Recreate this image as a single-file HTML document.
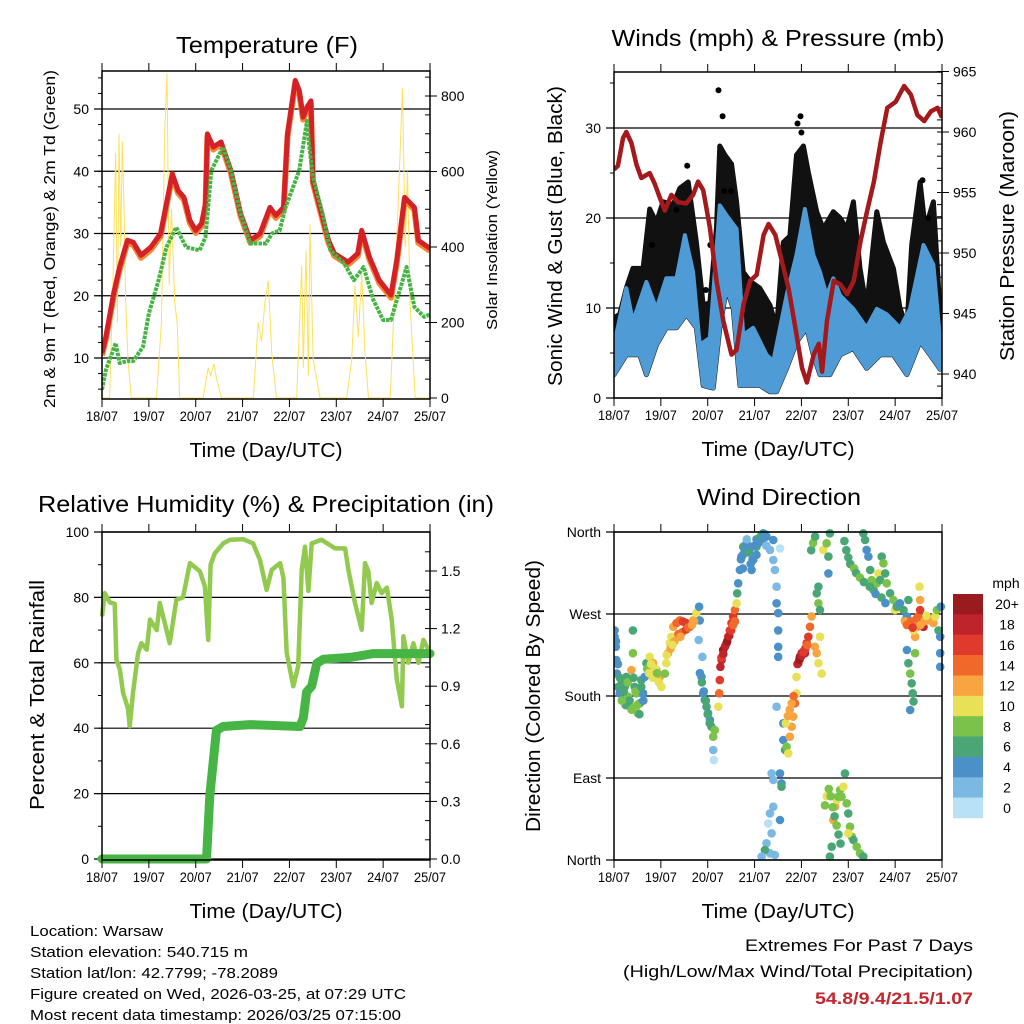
<!DOCTYPE html>
<html><head><meta charset="utf-8"><style>
html,body{margin:0;padding:0;background:#fff}
svg{display:block;font-family:"Liberation Sans",Arial,sans-serif}
</style></head><body>
<svg id="c" width="1024" height="1024" viewBox="0 0 1024 1024" xmlns="http://www.w3.org/2000/svg"></svg>
<script>
// ---------- DATA ----------
const dayLabels = ["18/07","19/07","20/07","21/07","22/07","23/07","24/07","25/07"];
// Temperature panel (hours since 18/07 00:00)
const tempHours = [0,2,6,9,13,16,20,25,30,32,36,39,42,45,48,51,53,54,57,61,66,71,76,81,86,89,93,95,99,101,103,105,107,108,112,116,119,126,131,133,137,142,148,151,155,160,162,168];
const tempValues = [10.8,13.4,20.4,24.6,28.9,28.6,26.5,27.8,30,33.2,39.6,36.9,35.8,32.1,30.5,31.6,34.8,46,43.9,44.7,40.1,33.2,28.9,30,34.2,32.9,34.2,46,54.6,53,48.7,50.3,51.3,38.5,33.7,28.9,26.8,25.4,26.8,30.5,26.2,22.5,20.1,25.7,35.8,34.2,28.9,27.6];
const dewHours = [0,2,7,9,13,16,21,24,29,33,38,43,50,53,56,62,66,71,76,84,87,91,94,101,105,106,108,113,117,124,129,134,139,144,148,151,156,160,165,168];
const dewValues = [4.9,8.1,12.4,9.2,9.5,9.5,11.8,17.2,22.5,27.8,31,27.8,27.3,29.4,40.1,43.9,40.1,33.2,28.4,28.4,30,30.5,34.2,40.1,48.1,44.4,39.1,33.2,27.3,25.2,22.5,24.6,19.3,16.1,16.1,19.3,24.6,18.2,16.6,17];
const solarHours = [0,3.9,5.6,7,7.9,8.7,9.6,10.4,11.3,12.1,13.3,15,27.9,30.4,32.1,33.3,34.4,35.6,37.3,38.5,39.8,51.8,54.4,55.6,57.3,58.7,61.2,77.5,80,81.7,83.4,85.2,86.9,89.4,99.7,102.3,103.1,104.5,105.7,106.5,108.2,111.7,125.3,127.9,129.6,131.3,133,134.7,136.5,147.6,150.1,152.7,153.9,155.3,156.5,157.8,160.4,168];
const solarValues = [0,0,300,650,200,700,400,680,500,260,100,0,0,200,700,860,300,500,250,200,0,0,80,60,90,50,0,0,200,150,250,310,120,0,0,350,80,390,60,460,100,0,0,100,300,160,330,120,0,0,300,650,820,400,600,250,0,0];
// Winds panel
const gustHours = [0,2.9,6.3,9.7,14.9,18.3,21.7,25.1,30.3,33.7,38,42.2,45.7,49.1,52.5,54.2,56.8,60.2,62.8,66.2,69.6,74.7,79.9,83.3,86.7,90.1,93.5,97,99.5,103.8,107.2,112.3,115.8,119.2,122.6,126,129.4,132.9,134.6,138,143.1,146.5,150,152.5,156.8,159.4,163.6,167.1,168];
const gustValues = [8.9,9.3,12.2,14.4,14.4,21,19.5,21.8,21.5,23.3,24,17.3,10.3,10.6,19,28,27,26,21.8,14,13,12.2,10.3,7.8,17.3,18,27,28,25.1,20.7,18.8,20.7,20,18.8,21.8,14.4,10,17.3,20.7,17.3,14.4,10,7.8,17,24,18.8,21.8,9.2,4.8];
const gustDotHours = [53.5,55.6,56.5,94,95.5,96,49.3,47,19.5,32,37.5,60,158,161];
const gustDotValues = [34.2,31.3,23,30.5,31.3,29.5,17,12,17,20.9,25.8,23,24.2,20];
const sustHiHours = [0,6.3,9.7,16.6,21.7,26.8,32,36.3,40.5,43.9,49.1,54.2,57.6,62.8,66.2,71.3,78.1,81.6,88.4,93.5,97.8,102.1,105.5,108.9,112.3,115.8,122.6,129.4,134.6,139.7,146.5,151.6,158.5,163.6,167.1,168];
const sustHi = [5.9,12.2,8.5,12.9,9.9,13.3,13.3,18.1,14,5.9,6.7,21.4,20.3,18.8,7,7.8,4.8,4.1,11.4,15.9,21,15.9,14,11.4,13.3,11.4,9.9,7.8,9.9,9.3,7.8,9.9,17,14.8,6.3,4.8];
const sustLoHours = [0,6.3,13.2,16.6,21.7,26.8,32,37.1,42.2,45.7,50.8,54.2,57.6,61.1,64.5,69.6,74.7,79.9,83.3,88.4,93.5,98.7,102.1,105.5,110.6,115.8,122.6,129.4,136.3,143.1,150,156.8,161.9,167.1,168];
const sustLo = [2.6,4.8,4.8,2.6,5.9,7.8,7.8,9.3,7.8,1.4,1.1,7.8,12.2,9.9,1.4,1.4,1.4,0.7,0.7,3.3,6.2,7.8,4.8,2.6,2.6,4.8,5.5,3.3,4.8,4.8,2.6,6.3,4.8,3.2,3.3];
const presHours = [0,2,4.6,6.3,8.9,11.5,14,18.3,20.9,23.4,26,29.4,32.8,37.1,40.5,43.1,45.7,49.1,52.5,56,60.2,62.8,66.3,69.7,73.1,76.6,79.2,82.6,86,89.4,92.9,96.3,98.8,102.3,104.9,106.6,109.1,112.6,116,119.4,122.8,126.3,129.7,133.1,136.6,140,144.3,148.6,152,155.4,158.9,162.3,165.7,168];
const presValues = [956.9,957.2,959.5,960,959.1,957.3,956.2,956.6,955.7,954.6,953.5,954.8,954.2,954.1,954.8,955.9,955.2,952.1,947.7,944.4,941.6,942,945.7,947.7,948.2,951.5,952.4,951.5,949.3,947.1,943.8,940.5,939.3,941.6,942.5,940.2,944.4,947.7,947.4,946.6,947.7,951,953.5,955.9,959.2,962,962.5,963.8,963.1,961.4,960.9,961.7,962,961.2];
// RH panel
const rhHours = [0,1.4,4,6.5,7.4,9.1,10.8,13.3,14.2,15.9,18.5,20.2,22.9,24.6,28,29.6,32.2,34.7,38.1,41.5,45,50.1,52.7,54.4,55.6,57.8,62.1,65.5,72.3,77.4,80.9,84.3,86.9,91.2,92.9,94.6,98,100.5,102.3,104,105.7,107.4,112.5,119.4,124.5,126.2,129.6,133,134.7,136.4,138.1,140.7,143.2,145.9,148.4,151,153.6,154.4,156.9,159.5,162.1,164.6,168];
const rhValues = [74.2,81.3,78.5,78,61,58,50.8,46,40.6,50.8,63,66,64,73.2,70,78.3,72,66,79.3,80,90.5,88,83.3,67,90,93.5,96.5,97.6,97.8,96.5,91.5,82.3,88.4,90.5,86,63,52.8,59,88.4,95.5,82,96.5,97.6,95,95,88.4,78.3,70.1,90.5,88,78.3,84.4,81.3,83,73.2,54.9,46.7,68.1,60,66,60,67,63];
const rainHours = [0,53.5,55.2,58.6,62,75.7,101.4,103.1,104.8,107.4,110,113.4,127.1,139,168];
const rainValues = [0,0,0.33,0.67,0.69,0.70,0.69,0.735,0.87,0.9,1.02,1.04,1.05,1.07,1.07];
// Wind direction scatter (hours, degrees, mph)
const dirHours = [
 0.3,0.3,0.9,1.2,1.5,2.1,2.9,3.8,4.6,5.5,
 6.3,7.2,8.0,8.9,9.7,9.7,10.6,11.5,12.3,13.2,
 14.0,14.9,15.7,16.6,18.3,20.0,21.7,23.4,24.3,26.0,
 26.8,27.7,28.6,29.4,30.3,32.0,33.7,35.4,37.1,38.8,
 40.5,42.2,43.6,43.9,43.4,45.3,44.8,45.7,46.5,47.4,
 48.2,49.1,49.9,50.8,51.6,50.8,51.1,53.4,53.9,54.2,
 54.5,55.1,55.9,56.8,57.6,58.5,59.3,60.2,61.0,61.9,
 62.8,63.1,63.6,64.5,65.3,66.2,67.9,69.6,70.5,71.3,
 73.0,74.7,76.4,78.1,79.9,81.6,82.4,83.3,83.3,84.1,
 84.1,84.1,84.1,81.6,85.0,83.3,80.7,81.6,85.0,85.8,
 85.8,79.9,79.0,80.7,78.1,79.9,82.4,77.3,75.6,85.0,
 81.6,86.7,86.7,87.6,88.4,89.3,90.1,91.0,91.8,92.7,
 93.5,93.5,94.4,95.2,96.1,97.0,97.8,98.7,99.5,100.4,
 101.2,102.9,103.8,104.7,105.5,106.4,103.8,104.7,105.5,104.7,
 107.2,108.9,109.8,110.6,109.8,110.6,111.5,112.3,113.2,114.1,
 114.9,115.8,116.6,117.5,118.3,119.2,120.0,120.9,121.8,122.6,
 124.3,126.0,127.7,120.0,127.7,128.6,129.4,130.3,131.2,132.0,
 132.9,134.6,135.4,136.3,137.1,138.0,138.9,139.7,141.4,143.1,
 144.0,144.8,146.5,148.3,149.1,150.0,150.8,150.0,150.8,151.7,
 152.5,153.0,153.4,151.7,154.2,154.2,155.1,155.9,156.8,157.7,
 158.5,159.4,160.2,161.9,163.6,164.5,165.4,166.2,167.1,167.1,
 167.4,167.1,156.5,156.8,153.4,
 1,2,3,5,6,7,8,10,11,12,13,14,4,9,15,17,18,19,20,21,22,23,27,29,31,33,35,37,38,40,41,30,34,44,45,46,47,48,49,55,56,57,58,59,60,61,62,65,66,67,68,69,70,71,72,73,74,75,76,77,78,66,68,71,73,88,89,90,91,92,94,95,96,97,98,99,101,102,103,108,109,110,111,112,113,114,115,116,118,119,120,121,123,124,126,128,131,134,137,139,149,150,152,153,155,157,159,160];
const dirValues = [
 252,245,234,219.5,204.6,190,183,197.5,175.6,190,
 201,179.4,168.3,208.5,227,252,190,183,161,172,
 197.5,183,201,216,223,216,208.5,201,190,204.6,
 216,227,238,245,256,260,263,261.7,260,256,
 263,271,278,263,241.5,223,201,183,175.6,168.3,
 161,153.7,146.3,135.3,142.6,120.7,109.7,168.3,183,197.5,
 212,219.5,230.5,234,238,245,252,260,267.4,274.4,
 281.7,292.7,303.7,318.3,333,343.9,347.6,336.6,318.3,329.3,
 343.9,351.2,358.6,355,340.3,329.3,318.3,300,281.7,271,
 252,234,223,351.2,342,168.3,95,87.8,95,84.1,
 80.5,51.2,40.2,29.3,18.3,7.3,5.5,11,3.7,43.9,
 58.5,150,131.7,120.7,124.4,117,135.3,146.3,157.3,172,
 183,201,216,223,227,228.7,227,238,245,256,
 267.4,234,227,216,245,204.6,292.7,281.7,274.4,300,
 340.3,347.6,333,358.6,314.6,3.7,14.6,43.9,58.5,65.8,
 69.5,76.8,69.5,80.5,95,62.2,51.2,36.6,25.6,22,
 14.6,7.3,3.7,29.3,358.6,351.2,340.3,333,318.3,307.3,
 296.3,303.7,314.6,307.3,333,325.6,314.6,303.7,292.7,285.4,
 274.4,278,281.7,274.4,263,267.4,285.4,230.5,216,204.6,
 193.9,183,174,164.6,227,245,256,267.4,274.4,260,
 256,263,267.4,263,260,267.4,274.4,252,245,227,
 278,212,300,285.4,252,
 240,215,200,185,170,195,175,200,185,170,160,190,175,165,175,210,205,215,200,210,205,195,225,232,240,248,250,253,255,258,262,236,245,205,195,185,175,160,150,222,226,235,240,246,252,258,262,330,335,340,345,338,325,330,345,352,348,355,350,358,345,320,352,344,335,150,158,165,172,180,215,220,224,228,232,236,340,348,355,60,70,78,70,58,48,38,28,18,350,340,332,325,320,315,310,305,300,292,288,282,262,258,262,255,265,258,262,268];
const dirSpeeds = [
 4,4,4,4,5,6,5,6,7,6,
 6,8,8,12,8,7,7,8,8,7,
 6,4,5,7,10,12,13,12,10,9,
 10,12,11,10,12,14,15,17,16,14,
 12,11,4,4,3,3,4,5,4,6,
 5,4,7,8,9,2,1,11,15,16,
 18,19,20,20,18,17,16,16,16,14,
 10,7,5,4,5,6,4,3,4,4,
 6,5,6,4,3,3,2,2,4,4,
 4,4,4,4,1,2,2,2,4,4,
 6,2,1,2,2,2,2,6,3,4,
 2,4,5,6,8,10,12,13,12,14,
 10,10,18,20,19,20,18,17,16,14,
 12,13,12,11,10,10,7,8,6,6,
 10,8,7,6,4,7,7,13,12,10,
 8,8,9,10,7,9,6,8,8,7,
 8,8,6,10,6,7,5,4,6,8,
 7,9,10,6,7,8,7,9,7,8,
 10,6,5,6,4,5,6,4,6,8,
 6,6,7,4,8,12,14,15,16,17,
 18,16,14,12,13,10,8,6,4,5,
 4,4,10,12,10,
 4,5,6,6,7,8,7,6,8,9,7,6,8,8,5,9,10,11,10,11,9,10,11,12,13,14,15,16,14,13,12,10,12,5,6,5,6,7,6,16,18,19,20,18,17,15,14,4,4,5,4,6,4,5,6,4,5,6,4,5,3,4,3,4,5,11,12,13,12,14,19,20,18,17,16,15,7,8,7,9,10,9,8,8,7,8,7,6,6,7,6,7,8,7,8,7,6,5,6,5,13,14,15,16,14,12,13,11];
const speedLabels = ["20+","18","16","14","12","10","8","6","4","2","0"];
const speedColors = ["#b8e1f6","#7bb9e3","#4b91c8","#4aa775","#7ac24a","#e8e056","#f8a541","#f1682b","#df3a2c","#c0242b","#9a1b1e"];

// ---------- HELPERS ----------
const NS="http://www.w3.org/2000/svg";
const svg=document.getElementById('c');
function el(tag,attrs,parent){const e=document.createElementNS(NS,tag);for(const k in attrs)e.setAttribute(k,attrs[k]);(parent||svg).appendChild(e);return e;}
function txt(s,x,y,size,anchor,parent,extra){const t=el('text',Object.assign({x:x,y:y,'font-size':size,'text-anchor':anchor||'middle',fill:'#000'},extra||{}),parent);t.textContent=s;return t;}
function linScale(d0,d1,r0,r1){return v=>r0+(v-d0)/(d1-d0)*(r1-r0);}
function pathFrom(xs,ys,fx,fy){let d='';for(let i=0;i<xs.length;i++){d+=(i?'L':'M')+fx(xs[i]).toFixed(1)+','+fy(ys[i]).toFixed(1);}return d;}
function revPath(xs,ys,fx,fy){let d='';for(let i=xs.length-1;i>=0;i--){d+='L'+fx(xs[i]).toFixed(1)+','+fy(ys[i]).toFixed(1);}return d;}

function frame(g,L,T,R,B,xs){
  el('rect',{x:L,y:T,width:R-L,height:B-T,fill:'none',stroke:'#000','stroke-width':1.5},g);
  for(let d=0;d<=7;d++){
    const x=xs(d*24);
    el('line',{x1:x,y1:B,x2:x,y2:B+8,stroke:'#000','stroke-width':1},g);
    el('line',{x1:x,y1:T,x2:x,y2:T-8,stroke:'#000','stroke-width':1},g);
    const t=txt(dayLabels[d],x,B+22,14,'middle',g,{textLength:32,lengthAdjust:'spacingAndGlyphs'});
    
    
  }
  const xt=txt('Time (Day/UTC)',(L+R)/2,B+58,20,'middle',g,{textLength:153,lengthAdjust:'spacingAndGlyphs'});
  
  
}
function leftAxis(g,L,R,ticks,fy,minor,labelsFn,gridW){
  ticks.forEach(v=>{const y=fy(v);
    el('line',{x1:L-8,y1:y,x2:R,y2:y,stroke:'#000','stroke-width':gridW||1.2},g);
    const t=txt(labelsFn?labelsFn(v):String(v),L-13,y+5,14,'end',g);
    
    
  });
  (minor||[]).forEach(v=>{const y=fy(v);el('line',{x1:L-4,y1:y,x2:L,y2:y,stroke:'#000','stroke-width':1},g);});
}
function rightAxis(g,R,ticks,fy,minor,fmt){
  ticks.forEach(v=>{const y=fy(v);
    el('line',{x1:R,y1:y,x2:R+7,y2:y,stroke:'#000','stroke-width':1},g);
    const t=txt(fmt?fmt(v):String(v),R+11,y+5,14,'start',g);
    
    
  });
  (minor||[]).forEach(v=>{const y=fy(v);el('line',{x1:R-5,y1:y,x2:R,y2:y,stroke:'#000','stroke-width':1},g);});
}
function rotTitle(g,s,x,y,size,len){return txt(s,x,y,size,'middle',g,{transform:'rotate(-90 '+x+' '+y+')',textLength:len,lengthAdjust:'spacingAndGlyphs'});}
function range(a,b,s){const r=[];for(let v=a;v<=b+1e-9;v+=s)r.push(+v.toFixed(4));return r;}

// ---------- PANEL 1: TEMPERATURE ----------
(function(){
  const L=102,T=71,R=430,B=399;
  const g=el('g',{});
  
  
  const xs=linScale(0,168,L,R);
  const yT=linScale(10,50,358,109);
  const yS=linScale(0,800,398,96);
  const clip=el('clipPath',{id:'cp1'},g);el('rect',{x:L,y:T,width:R-L,height:B-T},clip);
  leftAxis(g,L,R,[10,20,30,40,50],yT,range(5,55,2.5));
  rightAxis(g,R,[0,200,400,600,800],yS,range(0,850,50));
  const pg=el('g',{'clip-path':'url(#cp1)'},g);
  const sol=el('path',{d:pathFrom(solarHours,solarValues,xs,yS),fill:'none',stroke:'#fde15a','stroke-width':1},pg);
  
  
  const o=el('path',{d:pathFrom(tempHours,tempValues.map(v=>v-0.4),xs,yT),fill:'none',stroke:'#f58634','stroke-width':6,'stroke-linejoin':'round'},pg);
  
  
  const r=el('path',{d:pathFrom(tempHours,tempValues,xs,yT),fill:'none',stroke:'#d42027','stroke-width':5,'stroke-linejoin':'round'},pg);
  
  
  const dp=el('path',{d:pathFrom(dewHours,dewValues,xs,yT),fill:'none',stroke:'#46b445','stroke-width':4,'stroke-dasharray':'3.5 1','stroke-linejoin':'round'},pg);
  
  
  frame(g,L,T,R,B,xs);
  const t=txt('Temperature (F)',267,53,23,'middle',g,{textLength:182,lengthAdjust:'spacingAndGlyphs'});
  
  
  const yl=rotTitle(g,'2m & 9m T (Red, Orange) & 2m Td (Green)',55,239,16,338);
  
  
  const yr=rotTitle(g,'Solar Insolation (Yellow)',497,240,15,180);
  
  
})();

// ---------- PANEL 2: WINDS ----------
(function(){
  const L=614,T=72,R=942,B=398;
  const g=el('g',{});
  
  
  const xs=linScale(0,168,L,R);
  const yW=linScale(0,30,398,128);
  const yP=linScale(940,960,374,132);
  const clip=el('clipPath',{id:'cp2'},g);el('rect',{x:L,y:T,width:R-L,height:B-T},clip);
  leftAxis(g,L,R,[0,10,20,30],yW,range(0,35,5));
  rightAxis(g,R,[940,945,950,955,960,965],yP,range(938,965,1));
  const pg=el('g',{'clip-path':'url(#cp2)'},g);
  const d=pathFrom(gustHours,gustValues,xs,yW)+revPath(sustLoHours,sustLo,xs,yW)+'Z';
  const gb=el('path',{d:d,fill:'#111',stroke:'#111','stroke-width':5,'stroke-linejoin':'round'},pg);
  
  
  for(let i=0;i<gustDotHours.length;i++){
    const c=el('circle',{cx:xs(gustDotHours[i]).toFixed(1),cy:yW(gustDotValues[i]).toFixed(1),r:3,fill:'#000'},pg);
    
    
  }
  const d2=pathFrom(sustHiHours,sustHi,xs,yW)+revPath(sustLoHours,sustLo,xs,yW)+'Z';
  const bl=el('path',{d:d2,fill:'#4f9bd5',stroke:'#4f9bd5','stroke-width':4,'stroke-linejoin':'round'},pg);
  
  
  const pr=el('path',{d:pathFrom(presHours,presValues,xs,yP),fill:'none',stroke:'#a3191c','stroke-width':4.5,'stroke-linejoin':'round'},pg);
  
  
  frame(g,L,T,R,B,xs);
  const t=txt('Winds (mph) & Pressure (mb)',778,46,23,'middle',g,{textLength:333,lengthAdjust:'spacingAndGlyphs'});
  
  
  const yl=rotTitle(g,'Sonic Wind & Gust (Blue, Black)',562,236,20,300);
  
  
  const yr=rotTitle(g,'Station Pressure (Maroon)',1014,236,20,250);
  
  
})();

// ---------- PANEL 3: RH & PRECIP ----------
(function(){
  const L=102,T=532,R=430,B=860;
  const g=el('g',{});
  
  
  const xs=linScale(0,168,L,R);
  const yH=linScale(0,100,859,532);
  const yR=linScale(0,1.5,859,571);
  const clip=el('clipPath',{id:'cp3'},g);el('rect',{x:L-8,y:T,width:R-L+16,height:B-T+8},clip);
  leftAxis(g,L,R,[0,20,40,60,80,100],yH,range(0,100,10));
  rightAxis(g,R,[0,0.3,0.6,0.9,1.2,1.5],yR,range(0,1.65,0.1),v=>v.toFixed(1));
  const pg=el('g',{'clip-path':'url(#cp3)'},g);
  const rh=el('path',{d:pathFrom(rhHours,rhValues,xs,yH),fill:'none',stroke:'#92c94f','stroke-width':4.5,'stroke-linejoin':'round'},pg);
  
  
  const rn=el('path',{d:pathFrom(rainHours,rainValues,xs,yR),fill:'none',stroke:'#47b446','stroke-width':9,'stroke-linejoin':'round','stroke-linecap':'round'},pg);
  
  
  frame(g,L,T,R,B,xs);
  const t=txt('Relative Humidity (%) & Precipitation (in)',266,512,23,'middle',g,{textLength:456,lengthAdjust:'spacingAndGlyphs'});
  
  
  const yl=rotTitle(g,'Percent & Total Rainfall',44,695,20,230);
  
  
})();

// ---------- PANEL 4: WIND DIRECTION ----------
(function(){
  const L=614,T=532,R=942,B=860;
  const g=el('g',{});
  
  
  const xs=linScale(0,168,L,R);
  const yD=linScale(0,360,860,532);
  const names=['North','East','South','West','North'];
  leftAxis(g,L,R,[0,90,180,270,360],yD,[],v=>names[v/90]);
  const clip=el('clipPath',{id:'cp4'},g);el('rect',{x:L,y:T-4,width:R-L+4,height:B-T+8},clip);
  const pg=el('g',{'clip-path':'url(#cp4)'},g);
  const n=Math.min(dirHours.length,dirValues.length,dirSpeeds.length);
  for(let i=0;i<n;i++){
    const idx=Math.min(10,Math.floor(dirSpeeds[i]/2));
    const c=el('circle',{cx:xs(dirHours[i]).toFixed(1),cy:yD(dirValues[i]).toFixed(1),r:4.3,fill:speedColors[idx]},pg);
    
    
  }
  frame(g,L,T,R,B,xs);
  const t=txt('Wind Direction',779,505,23,'middle',g,{textLength:164,lengthAdjust:'spacingAndGlyphs'});
  
  
  const yl=rotTitle(g,'Direction (Colored By Speed)',540,696,20,272);
  
  
  const lg=el('g',{},g);
  
  
  const mt=txt('mph',1006,588,14,'middle',lg);
  
  
  const bh=(818-594)/11;
  for(let i=0;i<11;i++){
    const y=594+i*bh;
    const r=el('rect',{x:953,y:y.toFixed(1),width:30,height:(bh+0.3).toFixed(1),fill:speedColors[10-i]},lg);
    
    
    const lt=txt(speedLabels[i],1007,y+bh/2+5,14,'middle',lg);
    
    
  }
})();

// ---------- FOOTER ----------
const info=["Location: Warsaw","Station elevation: 540.715 m","Station lat/lon: 42.7799; -78.2089","Figure created on Wed, 2026-03-25, at 07:29 UTC","Most recent data timestamp: 2026/03/25 07:15:00"];
const infoW=[133,218,248,376,371];
info.forEach((s,i)=>{const t=txt(s,30,936+i*21,15,'start',null,{textLength:infoW[i],lengthAdjust:'spacingAndGlyphs'});
  
  });
const e1=txt('Extremes For Past 7 Days',973,951,17,'end',null,{textLength:228,lengthAdjust:'spacingAndGlyphs'});


const e2=txt('(High/Low/Max Wind/Total Precipitation)',973,977,17,'end',null,{textLength:350,lengthAdjust:'spacingAndGlyphs'});


const e3=txt('54.8/9.4/21.5/1.07',973,1004,17,'end',null,{fill:'#c1272d','font-weight':'bold',textLength:158,lengthAdjust:'spacingAndGlyphs'});


</script>
</body></html>
